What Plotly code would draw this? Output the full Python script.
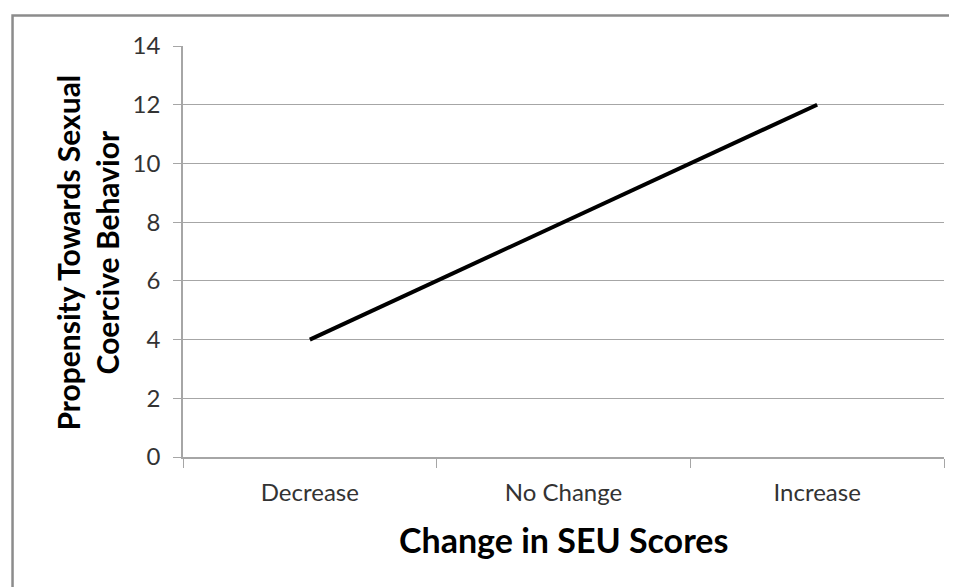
import plotly.graph_objects as go

# Change in SEU scores vs. propensity
categories = ["Decrease", "No Change", "Increase"]
propensity = [4, 8, 12]
y_ticks = [0, 2, 4, 6, 8, 10, 12, 14]

GRID = "#a6a6a6"
TEXT = "#333333"
FONT = "Lato, 'Open Sans', sans-serif"

fig = go.Figure()
fig.add_trace(
    go.Scatter(
        x=categories,
        y=propensity,
        mode="lines",
        line=dict(color="black", width=4),
        showlegend=False,
    )
)

fig.update_xaxes(
    type="category",
    range=[-0.5, 2.5],
    showgrid=False,
    zeroline=False,
    showline=True,
    linecolor=GRID,
    linewidth=1.5,
    ticks="outside",
    tickson="boundaries",
    ticklen=9,
    tickcolor=GRID,
    tickfont=dict(size=24, color=TEXT, family=FONT),
    ticklabelstandoff=13,
)
fig.update_yaxes(
    range=[0, 14],
    tickvals=y_ticks,
    showgrid=True,
    gridcolor=GRID,
    gridwidth=1,
    zeroline=False,
    showline=True,
    linecolor=GRID,
    linewidth=1.5,
    ticks="outside",
    ticklen=8,
    tickcolor=GRID,
    tickfont=dict(size=24, color=TEXT, family=FONT),
    ticklabelstandoff=8,
)

# axis titles as annotations for exact placement
fig.add_annotation(
    text="<b>Change in SEU Scores</b>",
    xref="paper", yref="paper", x=0.5, y=-0.2,
    xanchor="center", yanchor="middle", showarrow=False,
    font=dict(size=34, color="black", family=FONT),
)
fig.add_annotation(
    text="<b>Propensity Towards Sexual<br>Coercive Behavior</b>",
    xref="paper", yref="paper", x=-0.125, y=0.497,
    xanchor="center", yanchor="middle", showarrow=False, textangle=-90,
    font=dict(size=30, color="black", family=FONT),
)

# chart-area border (left and top visible)
fig.add_shape(
    type="path",
    path="M -0.224,-0.5 L -0.224,1.0742 L 1.2,1.0742",
    xref="paper", yref="paper",
    line=dict(color="#8c8c8c", width=2.5),
)

fig.update_layout(
    width=957,
    height=587,
    paper_bgcolor="white",
    plot_bgcolor="white",
    margin=dict(l=175, r=21, t=38, b=138),
    font=dict(family=FONT, color=TEXT),
)

fig.write_html("out.html")
